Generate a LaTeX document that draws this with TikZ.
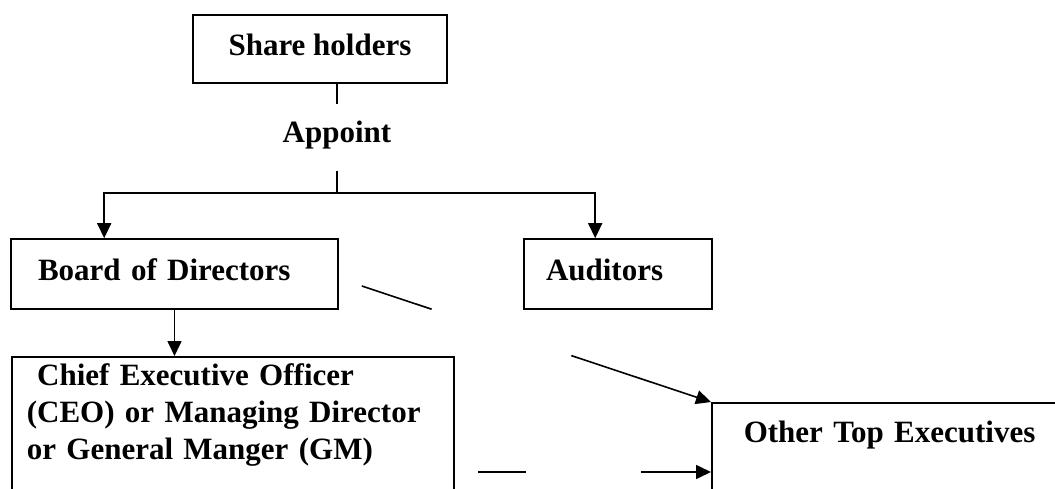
\documentclass[tikz,border=0pt]{standalone}
\usepackage{fontspec}
\setmainfont{Liberation Serif}
\usetikzlibrary{calc,arrows.meta}
\tikzset{
  box/.style={draw,line width=1.6pt,font=\bfseries\fontsize{31}{37}\selectfont,
    text height=21pt,text depth=9pt,align=left},
  lbl/.style={font=\bfseries\fontsize{31}{37}\selectfont,text height=21pt},
  arr/.style={-{Triangle[length=15pt,width=14pt]}}
}

\begin{document}
\begin{tikzpicture}[x=1pt,y=-1pt,line width=1.6pt]
    \useasboundingbox (0,0) rectangle (1055,488);
    \clip (0,0) rectangle (1055,488);
    \node (share) at (320,49) [box,align=center,minimum width=254pt,minimum height=68pt] {Share holders};
    \node (appoint) at (337,142) [lbl,anchor=base,text depth=12pt,inner ysep=16pt] {Appoint};
    \node (board) at (174.5,274) [box,text width=273pt,inner xsep=27pt,inner ysep=20pt] {Board of Directors};
    \node (auditors) at (618,274) [box,text width=144pt,inner xsep=22pt,inner ysep=20pt] {Auditors};
    \node (ceo) at (11,356) [box,anchor=north west,text width=412pt,inner xsep=15pt,inner ysep=8pt,text depth=150pt]
      {\ Chief Executive Officer\\(CEO) or Managing Director\\or General Manger (GM)};
    \node (other) at (711,402) [box,anchor=north west,text width=350pt,inner xsep=32pt,inner ysep=19pt,text depth=100pt]
      {Other Top Executives};
    \coordinate (split) at (appoint.south |- 0,193);
    \coordinate (diag) at ([shift={(23,12)}]board.east);
    \coordinate (mgr) at (478,472);
    \coordinate (mgrend) at (mgr -| other.west);
   \draw
    (appoint.north |- share.south) -- (appoint.north)
    (appoint.south) -- (split);
    \draw[arr] (split) -| ([xshift=94pt]board.north west);
    \draw[arr] (split) -| ([xshift=72pt]auditors.north west);
    \draw[arr] (board.south) -- (board.south |- ceo.north);
    \draw (diag) -- ($(diag)!0.2!(other.north west)$);
    \draw[arr] ($(diag)!0.6!(other.north west)$) -- (other.north west);
    \draw (mgr) -- ($(mgr)!0.206!(mgrend)$);
    \draw[arr] ($(mgr)!0.7!(mgrend)$) -- (mgrend);
  \end{tikzpicture}
\end{document}
